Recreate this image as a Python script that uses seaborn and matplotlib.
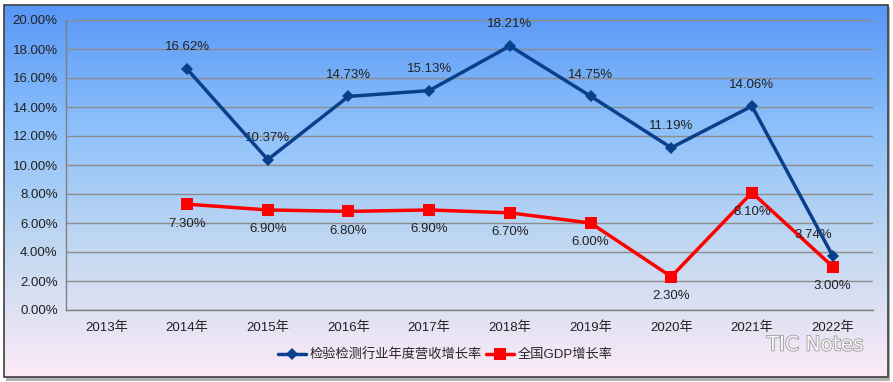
import numpy as np
import pandas as pd
import seaborn as sns
import matplotlib.pyplot as plt
import matplotlib.patheffects as pe
from matplotlib.colors import LinearSegmentedColormap
from matplotlib.patches import Rectangle

years = ['2013年', '2014年', '2015年', '2016年', '2017年', '2018年', '2019年', '2020年', '2021年', '2022年']
industry = [np.nan, 16.62, 10.37, 14.73, 15.13, 18.21, 14.75, 11.19, 14.06, 3.74]
gdp = [np.nan, 7.30, 6.90, 6.80, 6.90, 6.70, 6.00, 2.30, 8.10, 3.00]
name_industry = '检验检测行业年度营收增长率'
name_gdp = '全国GDP增长率'

sns.set_style('white')
plt.rcParams['font.family'] = ['Liberation Sans', 'Noto Sans CJK SC', 'DejaVu Sans']

fig = plt.figure(figsize=(8.93, 3.82), dpi=100)

# gradient background of the chart area
bg = fig.add_axes([0, 0, 1, 1], zorder=-5)
cmap = LinearSegmentedColormap.from_list('bg', ['#fdeaf7', '#c4d9f1', '#8ec1fb', '#5797f6'])
grad = np.linspace(0, 1, 256).reshape(-1, 1)
bg.imshow(grad, aspect='auto', cmap=cmap, origin='lower',
          extent=[4 / 893, 888 / 893, 1 - 377 / 382, 1 - 5 / 382])
bg.add_patch(Rectangle((6 / 893, 1 - 381 / 382), 884 / 893, 374 / 382, facecolor='#b0b0b0',
                       edgecolor='none', zorder=-1))
bg.add_patch(Rectangle((4 / 893, 1 - 377 / 382), 884 / 893, 372 / 382, facecolor='none',
                       edgecolor='#404040', lw=1.2, zorder=3))
bg.set_xlim(0, 1)
bg.set_ylim(0, 1)
bg.axis('off')

ax = fig.add_axes([66 / 893, 1 - 310 / 382, 807 / 893, 290 / 382])
ax.set_facecolor('none')

x = np.arange(len(years))
df = pd.DataFrame({'x': x, 'industry': industry, 'gdp': gdp})

sns.lineplot(data=df, x='x', y='industry', ax=ax, color='#0a3f8c', lw=2.5,
             marker='D', markersize=6, markeredgewidth=0, label=name_industry, zorder=4)
sns.lineplot(data=df, x='x', y='gdp', ax=ax, color='#ff0000', lw=2.5,
             marker='s', markersize=9, markeredgewidth=0, label=name_gdp, zorder=3)

for xi, v in zip(x, industry):
    if np.isnan(v):
        continue
    off = (-14, 15) if xi == 9 else (0, 15.5)
    ax.annotate(f'{v:.2f}%', (xi, v), xytext=off, textcoords='offset points',
                ha='center', va='center', fontsize=9.5, color='#222222')
for xi, v in zip(x, gdp):
    if np.isnan(v):
        continue
    ax.annotate(f'{v:.2f}%', (xi, v), xytext=(0, -14), textcoords='offset points',
                ha='center', va='center', fontsize=9.5, color='#222222')

ax.set_xlim(-0.5, 9.5)
ax.set_ylim(0, 20)
ax.set_yticks(np.arange(0, 21, 2))
ax.set_yticklabels([f'{v:.2f}%' for v in np.arange(0, 21, 2)], fontsize=9.5, color='#222222')
ax.set_xticks(x)
ax.set_xticklabels(years, fontsize=9.5, color='#222222')
ax.set_xticks(np.arange(-0.5, 10, 1), minor=True)
ax.tick_params(axis='x', which='major', length=0, pad=8)
ax.tick_params(axis='x', which='minor', length=4, color='#808080', direction='out')
ax.tick_params(axis='y', length=4, color='#808080', direction='out', pad=2)
ax.grid(axis='y', color='#8c8c8c', lw=1)
ax.set_axisbelow(True)
for s in ['top', 'right']:
    ax.spines[s].set_visible(False)
for s in ['left', 'bottom']:
    ax.spines[s].set_color('#808080')
    ax.spines[s].set_linewidth(1)
ax.set_xlabel('')
ax.set_ylabel('')

ax.legend(loc='center', bbox_to_anchor=(0.47, -0.155), ncol=2, frameon=False,
          fontsize=9.5, handlelength=2.1, columnspacing=0.3, handletextpad=0.3)

fig.text(0.913, 1 - 345 / 382, 'TIC Notes', fontsize=14.5, color='#f7f7f7', ha='center', va='center',
         family=['DejaVu Sans'],
         path_effects=[pe.withStroke(linewidth=1.2, foreground='#9a9a9a')])

fig.savefig('out.png', dpi=100)
